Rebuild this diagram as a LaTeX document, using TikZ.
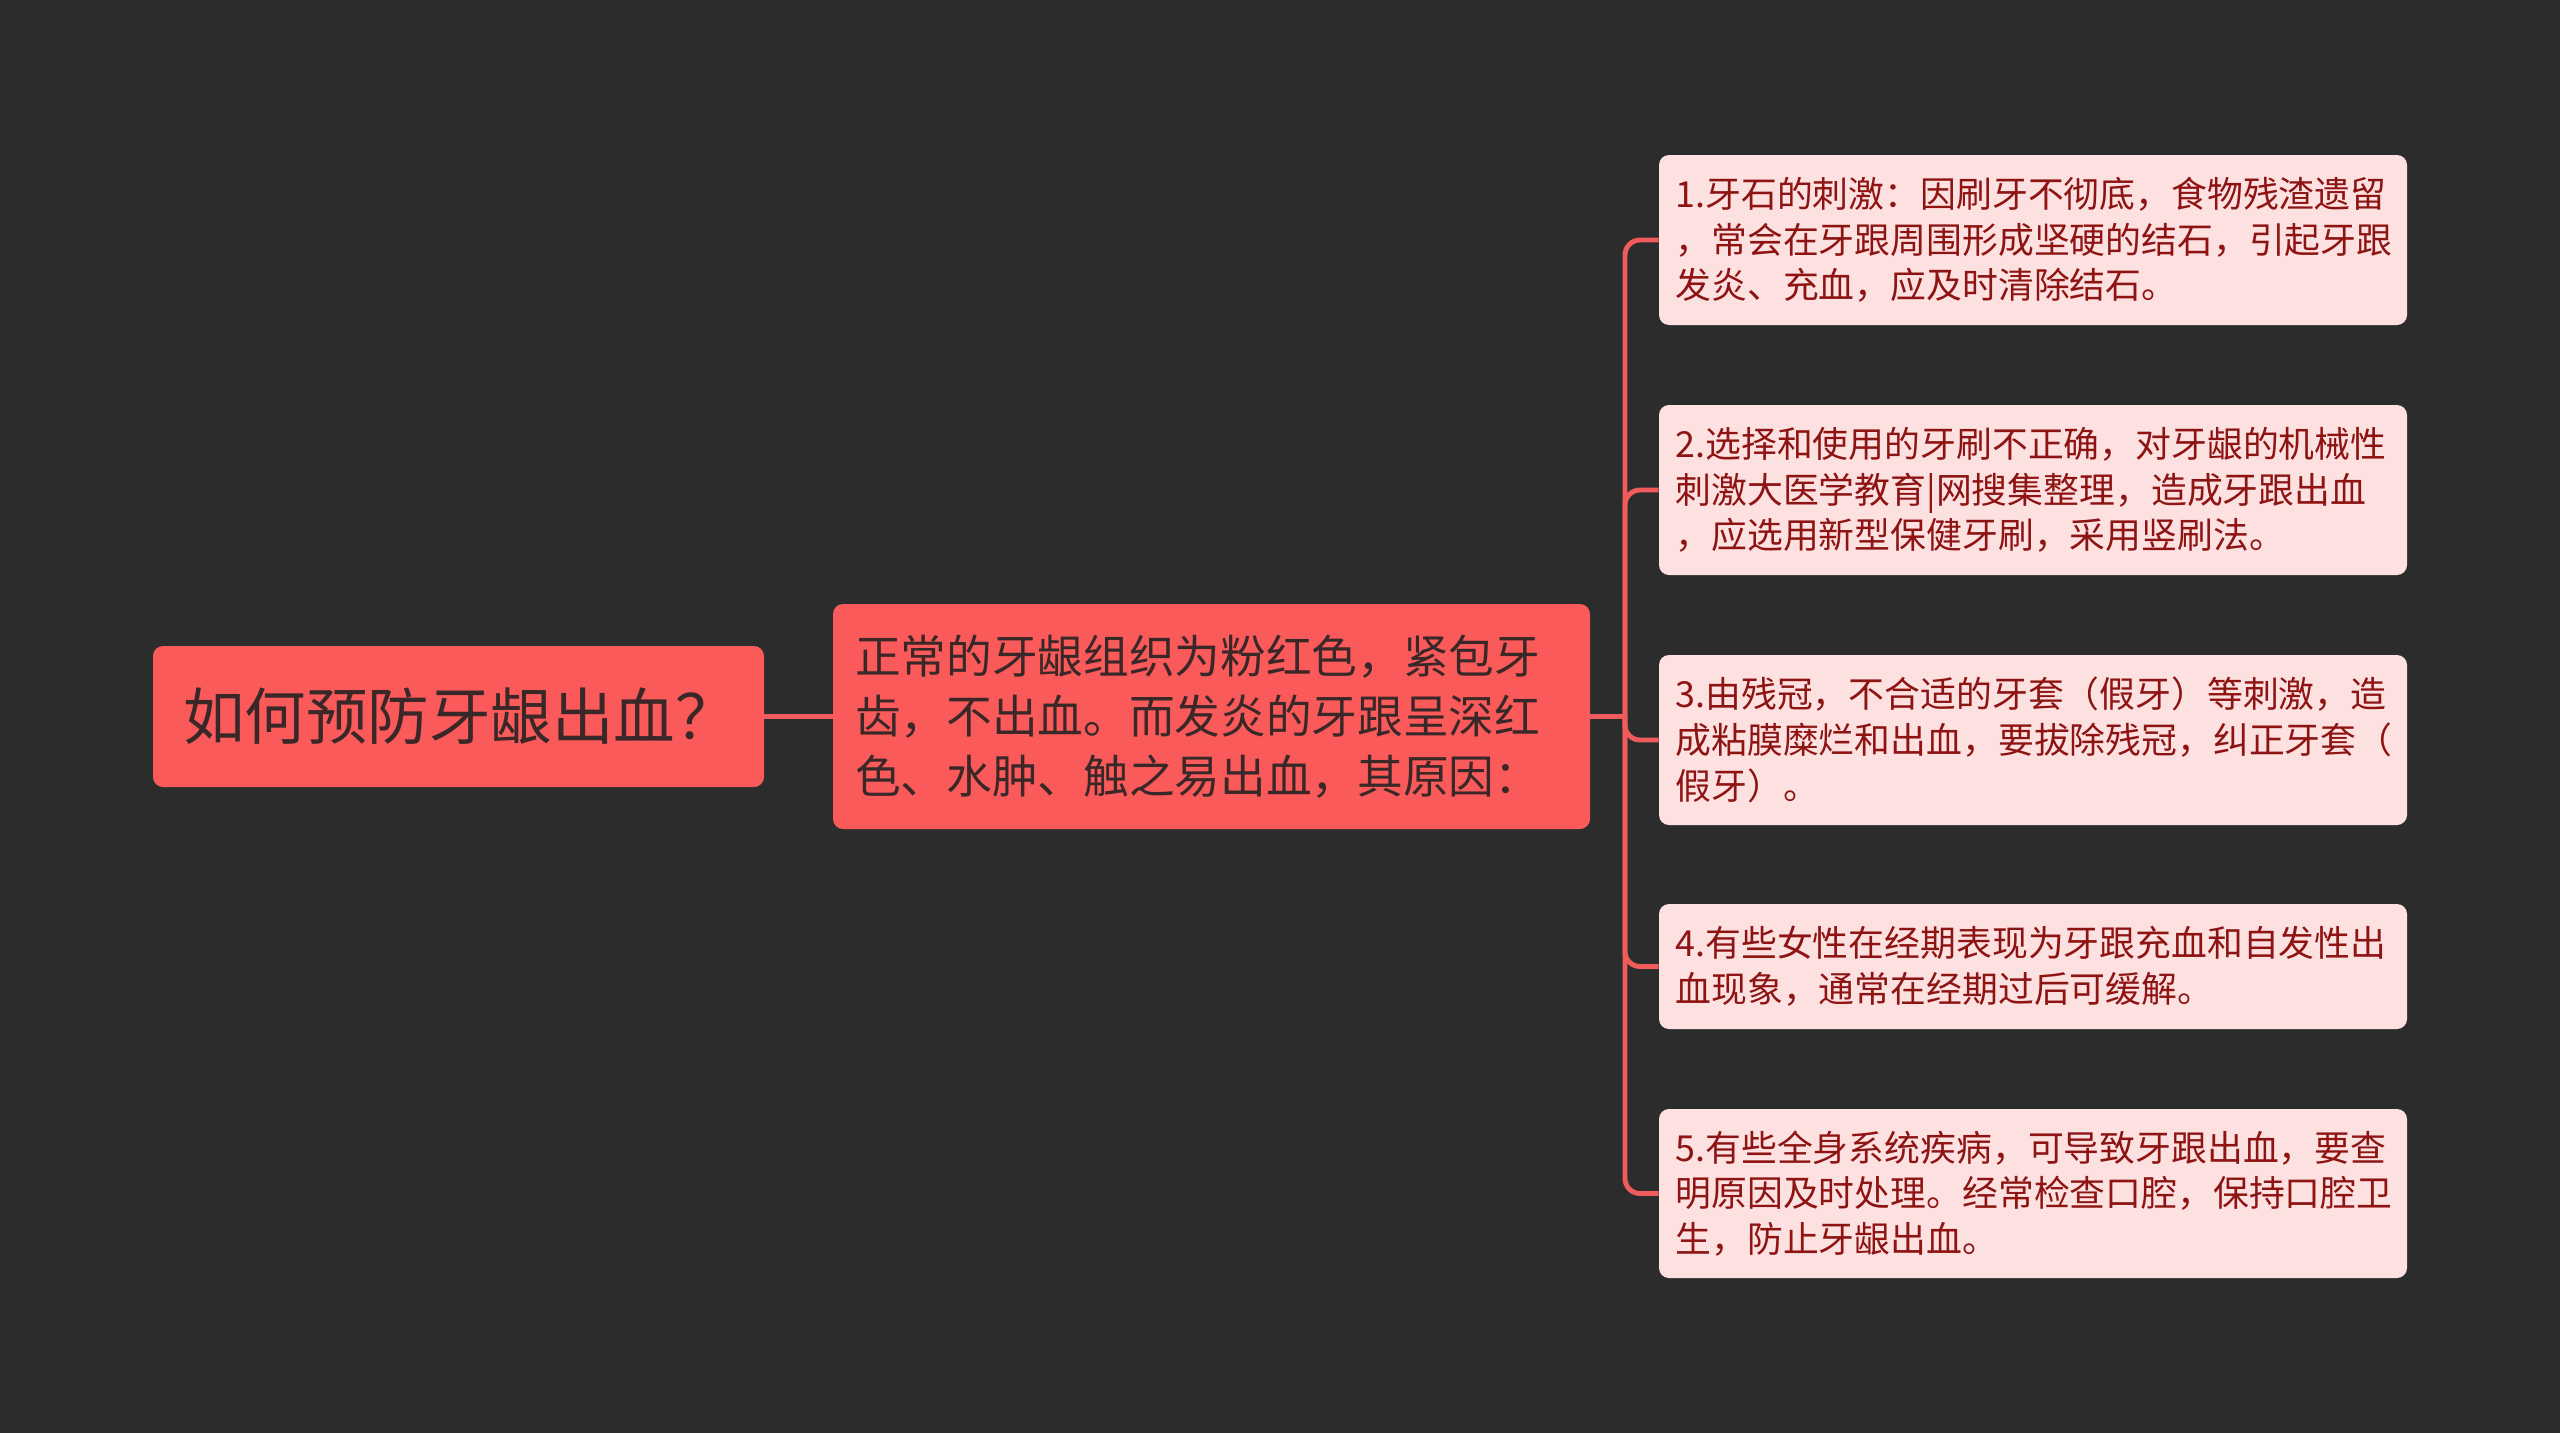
\documentclass[tikz,border=0pt]{standalone}
\usepackage{fontspec}
\newfontfamily\cjk{Noto Sans CJK SC}
\usetikzlibrary{positioning}
\definecolor{bgdark}{HTML}{2C2C2C}
\definecolor{rootred}{HTML}{FA5A5A}
\definecolor{leafpink}{HTML}{FDE1E1}
\definecolor{linered}{HTML}{F05C5C}
\definecolor{leaftext}{HTML}{8E1414}
\definecolor{roottext}{HTML}{3A2828}

\begin{document}
\begin{tikzpicture}[
    rootbox/.style={fill=rootred, rounded corners=0.2cm, text=roottext, align=left},
    leafbox/.style={fill=leafpink, rounded corners=0.2cm, text=leaftext, align=left,
      minimum width=14.96cm, text width=14.3cm, inner xsep=0.33cm,
      font=\cjk\fontsize{20.4}{26}\selectfont},
    branch/.style={draw=linered, line width=2.8pt, rounded corners=0.3cm}]
  \useasboundingbox (0,0) rectangle (51.2,-28.66);
  \fill[bgdark] (0,0) rectangle (51.2,-28.66);
  % central topic and main branch
  \node[rootbox, minimum width=12.22cm, minimum height=2.82cm, text width=11.02cm,
    font=\cjk\fontsize{35}{42}\selectfont] (topic) at (9.17,-14.33) {如何预防牙龈出血？};
  \node[rootbox, minimum width=15.14cm, minimum height=4.5cm, text width=14.26cm,
    font=\cjk\fontsize{26}{34}\selectfont] (cause) at (24.23,-14.33)
    {正常的牙龈组织为粉红色，紧包牙\\齿，不出血。而发炎的牙跟呈深红\\色、水肿、触之易出血，其原因：};
  % reasons
  \node[leafbox, minimum height=3.4cm] (r1) at (40.66,-4.8)
    {1.牙石的刺激：因刷牙不彻底，食物残渣遗留\\，常会在牙跟周围形成坚硬的结石，引起牙跟\\发炎、充血，应及时清除结石。};
  \node[leafbox, minimum height=3.4cm] (r2) at (40.66,-9.8)
    {2.选择和使用的牙刷不正确，对牙龈的机械性\\刺激大医学教育|网搜集整理，造成牙跟出血\\，应选用新型保健牙刷，采用竖刷法。};
  \node[leafbox, minimum height=3.4cm] (r3) at (40.66,-14.8)
    {3.由残冠，不合适的牙套（假牙）等刺激，造\\成粘膜糜烂和出血，要拔除残冠，纠正牙套（\\假牙）。};
  \node[leafbox, minimum height=2.5cm] (r4) at (40.66,-19.33)
    {4.有些女性在经期表现为牙跟充血和自发性出\\血现象，通常在经期过后可缓解。};
  \node[leafbox, minimum height=3.38cm] (r5) at (40.66,-23.87)
    {5.有些全身系统疾病，可导致牙跟出血，要查\\明原因及时处理。经常检查口腔，保持口腔卫\\生，防止牙龈出血。};
  % connectors
  \coordinate (fork) at (32.5,-14.33);
  \draw[branch] (topic) -- (cause);
  \draw[branch] (cause.east) -- (fork);
  \foreach \r in {r1,r2,r3,r4,r5}
    \draw[branch] (fork) |- (\r.west);
\end{tikzpicture}
\end{document}
